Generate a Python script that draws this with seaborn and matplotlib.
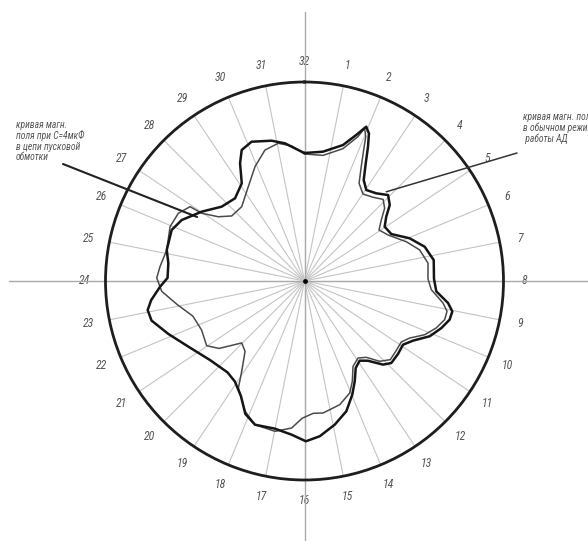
import numpy as np
import matplotlib
matplotlib.use('Agg')
import matplotlib.pyplot as plt
from matplotlib import font_manager
import seaborn as sns

# кривая при C=4мкФ (толстая): угол по часовой от верха, град / радиус
thick_theta = [0, 8.1, 15.8, 19.5, 21.8, 23.6, 25.3, 27.5, 30.4, 34.2, 39.3, 44.2,
               48.3, 51.8, 55.9, 61.6, 67.9, 74.1, 80.8, 89, 94.5, 98.7, 101.6,
               104.9, 109, 113.8, 118.8, 122.9, 128, 133.4, 136.8, 141.5, 145.3,
               149.5, 153.4, 157.2, 162.2, 168.1, 174.4, 179.5, 184.8, 191.3, 199,
               204, 208.9, 214.7, 220.1, 230.1, 240.2, 248.7, 255.5, 259.5, 262.9,
               267.7, 271.3, 277.4, 282.7, 291, 296.4, 304, 311.9, 320, 327.3,
               331.3, 334.4, 339.2, 346.8, 351.9, 357.3]
thick_r = [128, 130.6, 141.3, 154.9, 166.2, 161, 148.6, 132.6, 117, 110, 113.3, 119.9,
           114.2, 104, 96.8, 98.7, 113.5, 125, 130.9, 129.5, 132.2, 145.2, 150.9,
           150.2, 144.7, 136.9, 123.8, 117.3, 118.6, 119.4, 114.7, 101.9, 96.9,
           100.9, 112.2, 123.3, 136.8, 146.8, 156, 160.3, 154.2, 150.6, 152,
           145.5, 131.5, 122.3, 119.5, 123.2, 133, 146, 158, 159.5, 154.5,
           144.6, 137, 137.3, 141.2, 142.3, 137.1, 124, 111.3, 108, 116.1,
           134.2, 145.3, 149, 144.1, 139.1, 131.1]

# кривая в обычном режиме работы (тонкая)
thin_theta = [0, 8.4, 16.2, 20.3, 21.5, 23, 24.3, 26.4, 29.2, 33.9, 39.3, 43.9,
              47.8, 51.5, 55.6, 61.1, 68.9, 74.9, 81.8, 89, 93.9, 99, 102,
              105.4, 109.6, 114.1, 118.5, 122.2, 127.6, 132.5, 136.9, 141, 145.2,
              150.4, 154.5, 158, 164.1, 172, 176.2, 181, 185, 191.1, 199,
              204.5, 211.7, 214.8, 220.2, 225.4, 231.7, 236.5, 244.5, 252.5, 259.8,
              265.9, 271.2, 275.7, 282.7, 292, 298.2, 303, 303.4, 306.7, 311.8,
              319.8, 329.2, 336.6, 343.2, 349.2, 354.6]
thin_r = [127, 127, 137.8, 153.9, 164.1, 156.7, 143.8, 127.6, 111.9, 104.8, 108.2, 113.3,
          108.2, 98.1, 90.3, 95.3, 109.1, 119.3, 124.8, 123.5, 127.1, 140.2, 145.7,
          145.4, 139.9, 131.6, 119.6, 114.4, 115.2, 116.4, 110, 98.2, 93.8,
          98.2, 111.1, 120.8, 128.6, 133.3, 132.6, 137.3, 147.6, 153.2, 152,
          143.2, 125.8, 110, 92.1, 88.2, 108.8, 117.3, 114, 117, 130,
          143.2, 147.8, 145.2, 141.2, 145, 143.2, 136.5, 123.1, 107.5, 97.6,
          97.3, 109.8, 124.6, 136.8, 140.2, 135.6]

spoke_labels = ['32', '1', '2', '3', '4', '5', '6', '7', '8', '9', '10', '11',
                '12', '13', '14', '15', '16', '17', '18', '19', '20', '21', '22',
                '23', '24', '25', '26', '27', '28', '29', '30', '31']

left_lines = ['кривая магн.', 'поля при С=4мкФ', 'в цепи пусковой', 'обмотки']
right_lines = ['кривая магн. поля', 'в обычном режиме', ' работы АД']

sns.set_theme(style='white')
# узкий шрифт, как в чертеже
candidates = ['Roboto Condensed', 'Fira Sans Condensed', 'IBM Plex Sans Condensed',
              'PT Sans Narrow', 'Liberation Sans Narrow', 'Fira Sans Extra Condensed',
              'Open Sans Condensed', 'Encode Sans Condensed']
available = {f.name for f in font_manager.fontManager.ttflist}
narrow = next((n for n in candidates if n in available), 'DejaVu Sans')
plt.rcParams['font.family'] = [narrow, 'DejaVu Sans']

W, H = 588, 541
fig = plt.figure(figsize=(W / 100, H / 100), dpi=100)
fig.patch.set_facecolor('white')
cx, cy, R = 304.5, 281, 199
ax = fig.add_axes([(cx - R) / W, (H - cy - R) / H, 2 * R / W, 2 * R / H],
                  projection='polar')
ax.set_facecolor('white')
ax.set_theta_zero_location('N')
ax.set_theta_direction(-1)
ax.set_ylim(0, R)
ax.set_rticks([])

# спицы и номера
spoke_angles = np.arange(len(spoke_labels)) * 360 / len(spoke_labels)
ax.set_thetagrids(spoke_angles, spoke_labels, fontsize=8.5, color='#555555',
                  fontstyle='italic')
ax.tick_params(axis='x', pad=2)
ax.xaxis.grid(True, color='#c4c4c4', linewidth=0.8)
ax.yaxis.grid(False)
ax.spines['polar'].set_linewidth(2.0)
ax.spines['polar'].set_color('#1e1e1e')

# оси-перекрестие
for ang, length in [(0, 269), (90, 290), (180, 270), (270, 296)]:
    ax.plot([np.deg2rad(ang)] * 2, [0, length], color='#aaaaaa', lw=1.0,
            clip_on=False, zorder=1)

# кривые
th = np.deg2rad(np.append(thin_theta, thin_theta[0]))
sns.lineplot(x=th, y=np.append(thin_r, thin_r[0]), ax=ax, sort=False,
             estimator=None, color='#4a4a4a', linewidth=1.1, zorder=3)
tk = np.deg2rad(np.append(thick_theta, thick_theta[0]))
sns.lineplot(x=tk, y=np.append(thick_r, thick_r[0]), ax=ax, sort=False,
             estimator=None, color='#151515', linewidth=1.8, zorder=4)
ax.scatter([0], [0], s=6, color='black', zorder=5)
ax.set_xlabel('')
ax.set_ylabel('')

# выноски
ax.annotate('', xy=(np.deg2rad(300.8), 125), xycoords='data',
            xytext=(63, H - 164), textcoords='figure pixels',
            arrowprops=dict(arrowstyle='-', color='#222222', lw=1.5,
                            shrinkA=0, shrinkB=0), annotation_clip=False)
ax.annotate('', xy=(np.deg2rad(42.5), 121), xycoords='data',
            xytext=(517, H - 153), textcoords='figure pixels',
            arrowprops=dict(arrowstyle='-', color='#333333', lw=1.1,
                            shrinkA=0, shrinkB=0), annotation_clip=False)

for i, s in enumerate(left_lines):
    fig.text(16 / W, 1 - (125 + i * 10.8) / H, s, fontsize=6.9, color='#555555',
             fontstyle='italic', va='center', ha='left')
for i, s in enumerate(right_lines):
    fig.text(523 / W, 1 - (117 + i * 11) / H, s, fontsize=6.9, color='#555555',
             fontstyle='italic', va='center', ha='left')

fig.savefig('out.png', dpi=100, facecolor='white')
